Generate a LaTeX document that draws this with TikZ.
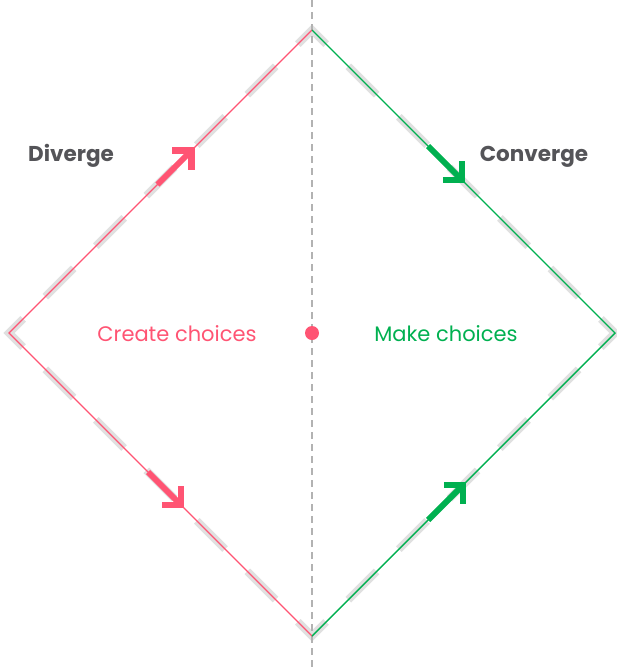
\documentclass[tikz,border=0pt]{standalone}
\usepackage{fontspec}
\setmainfont{Poppins}
\usetikzlibrary{calc}
\definecolor{divpink}{HTML}{FF5473}
\definecolor{congreen}{HTML}{00B050}
\definecolor{labgray}{HTML}{545458}
\definecolor{track}{HTML}{E0E0E0}

\begin{document}
\begin{tikzpicture} [x=1pt,y=-1pt,font=\fontsize{21}{25}\selectfont]

\tikzstyle{edge}=[line width=1.4pt]
\tikzstyle{flow}=[line width=6pt]
\tikzstyle{barb}=[line width=6.5pt,miter limit=4]
\tikzstyle{phase}=[anchor=base,text=labgray,font=\fontsize{21.5}{25}\selectfont\bfseries]
\tikzstyle{act}=[anchor=base]

  \useasboundingbox (0,0) rectangle (617,670);

  \coordinate (top) at (312,30);
  \coordinate (left) at (9,333);
  \coordinate (bottom) at (312,636);
  \coordinate (right) at (615,333);
  \coordinate (axis-n) at (312,0);
  \coordinate (axis-s) at (312,670);
  \coordinate (start) at ($(left)!35.7pt!(top)$);

  % arrow tails and tips on the edges
  \coordinate (div-a) at ($(left)!0.49!(top)$);
  \coordinate (div-at) at ($(left)!0.602!(top)$);
  \coordinate (div-b) at ($(left)!0.459!(bottom)$);
  \coordinate (div-bt) at ($(left)!0.568!(bottom)$);
  \coordinate (con-a) at ($(top)!0.383!(right)$);
  \coordinate (con-at) at ($(top)!0.495!(right)$);
  \coordinate (con-b) at ($(bottom)!0.383!(right)$);
  \coordinate (con-bt) at ($(bottom)!0.498!(right)$);

  % grey track under the diamond
  \draw[track,line width=8pt,dash pattern=on 40pt off 31.42pt,dash phase=55.7pt]
    (start) -- (top) -- (right) -- (bottom) -- (left) -- cycle;
  \draw[gray!60,line width=1.6pt,dash pattern=on 7pt off 5pt] (axis-n) -- (axis-s);

  \draw[edge,divpink] (bottom) -- (left) -- (top);
  \draw[edge,congreen] (top) -- (right) -- (bottom);

  \draw[flow,divpink] (div-a) -- (div-at);
  \draw[barb,divpink] ($(div-at)+(-19,0)$) -- (div-at) -- ($(div-at)+(0,19)$);
  \draw[flow,divpink] (div-b) -- (div-bt);
  \draw[barb,divpink] ($(div-bt)+(-19,0)$) -- (div-bt) -- ($(div-bt)+(0,-19)$);
  \draw[flow,congreen] (con-a) -- (con-at);
  \draw[barb,congreen] ($(con-at)+(-19,0)$) -- (con-at) -- ($(con-at)+(0,-19)$);
  \draw[flow,congreen] (con-b) -- (con-bt);
  \draw[barb,congreen] ($(con-bt)+(-19,0)$) -- (con-bt) -- ($(con-bt)+(0,19)$);

  \fill[divpink] (312,333) circle (7pt);

  \node[phase] (diverge) at (71,161.5) {Diverge};
  \node[phase] (converge) at (534,161.5) {Converge};
  \node[act,text=divpink] (create) at (177,341.5) {Create choices};
  \node[act,text=congreen] (make) at (446,341.5) {Make choices};
\end{tikzpicture}
\end{document}
